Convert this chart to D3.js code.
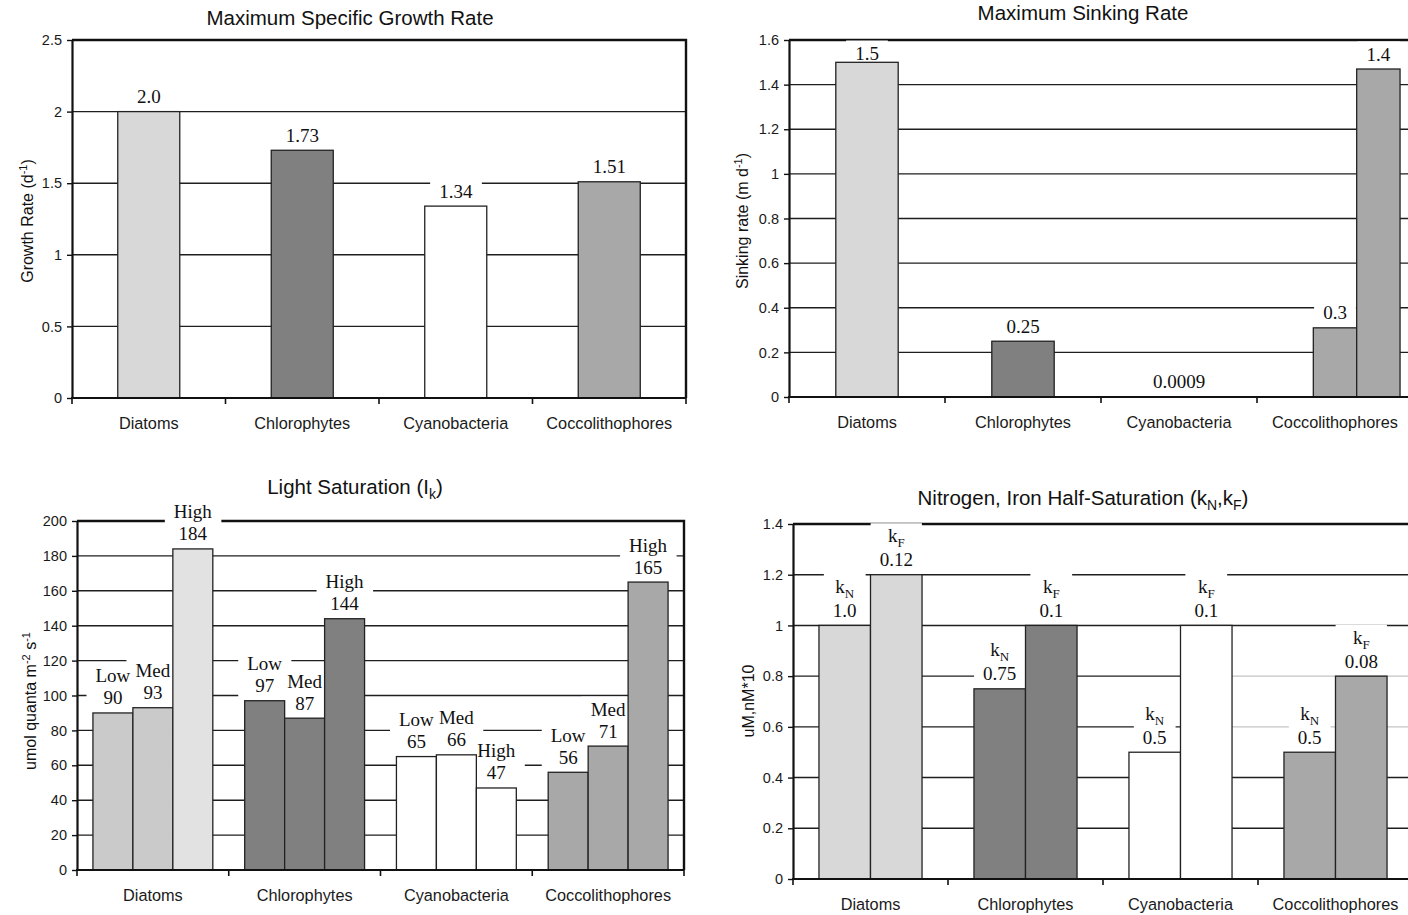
<!DOCTYPE html>
<html>
<head>
<meta charset="utf-8">
<script src="https://cdn.jsdelivr.net/npm/d3@7"></script>
<style>
	body { margin: 0; background: #fff; }
	svg { display: block; }
	.sans { font-family: Arial, "Liberation Sans", Helvetica, sans-serif; }
	.serif { font-family: "Times New Roman", "Liberation Serif", serif; }
</style>
</head>
<body>
<svg width="1408" height="915"></svg>
<script>
'use strict';

// Phytoplankton groups (x categories, same in all four panels)
var groups = ['Diatoms', 'Chlorophytes', 'Cyanobacteria', 'Coccolithophores'];
var groupColors = ['#d8d8d8', '#808080', '#ffffff', '#a8a8a8'];

// Maximum specific growth rate (d-1)
var growthRate = [2.0, 1.73, 1.34, 1.51];
var growthLabels = ['2.0', '1.73', '1.34', '1.51'];
var growthTicks = [0, 0.5, 1, 1.5, 2, 2.5];

// Maximum sinking rate (m d-1); coccolithophores have a second (maximum) bar
var sinkingRate = [1.5, 0.25, 0.0009, 0.31];
var sinkingLabels = ['1.5', '0.25', '0.0009', '0.3'];
var coccoSinkingMax = 1.47;
var coccoSinkingMaxLabel = '1.4';
var sinkingTicks = [0, 0.2, 0.4, 0.6, 0.8, 1, 1.2, 1.4, 1.6];

// Light saturation Ik (umol quanta m-2 s-1) for low / med / high light
var lightLevels = ['Low', 'Med', 'High'];
var lightSat = [
	[90, 93, 184],
	[97, 87, 144],
	[65, 66, 47],
	[56, 71, 165]
];
var lightColors = [
	['#cacaca', '#cacaca', '#e2e2e2'],
	['#808080', '#808080', '#808080'],
	['#ffffff', '#ffffff', '#ffffff'],
	['#a8a8a8', '#a8a8a8', '#a8a8a8']
];
var lightTicks = [0, 20, 40, 60, 80, 100, 120, 140, 160, 180, 200];

// Nitrogen (uM) and iron (nM) half-saturation; kF is plotted times 10
var halfSatKeys = ['N', 'F'];
var kN = [1.0, 0.75, 0.5, 0.5];
var kF = [0.12, 0.1, 0.1, 0.08];
var kNLabels = ['1.0', '0.75', '0.5', '0.5'];
var kFLabels = ['0.12', '0.1', '0.1', '0.08'];
var kFFactor = 10;
var halfSatTicks = [0, 0.2, 0.4, 0.6, 0.8, 1, 1.2, 1.4];

var svg = d3.select('svg');

/**
 * Draws title, frame, gridlines and axes of one panel and returns
 * the scales and layers to put bars and labels in.
 */
function makePanel(opts) {
	var g = svg.append('g');
	var x = d3.scaleBand().domain(groups).range([opts.left, opts.right]);
	var y = d3.scaleLinear().domain([0, opts.ticks[opts.ticks.length - 1]]).range([opts.bottom, opts.top]);
	var p = {
		g: g, x: x, y: y, opts: opts,
		grid: g.append('g'),
		boxes: g.append('g'),
		bars: g.append('g'),
		labels: g.append('g'),
		axes: g.append('g')
	};

	// gridlines (some panels have lighter segments on the right)
	var segs = [];
	opts.ticks.slice(1, -1).forEach(function (t) {
		if (opts.lightGrid && opts.lightGrid.values.indexOf(t) >= 0) {
			var x0 = opts.lightGrid.from(x);
			segs.push({ v: t, x1: opts.left, x2: x0, c: '#1e1e1e' });
			segs.push({ v: t, x1: x0, x2: opts.right, c: '#c4c4c4' });
		} else {
			segs.push({ v: t, x1: opts.left, x2: opts.right, c: '#1e1e1e' });
		}
	});
	p.grid.selectAll('line')
		.data(segs)
		.enter()
			.append('line')
			.attr('x1', function (d) { return d.x1; })
			.attr('x2', function (d) { return d.x2; })
			.attr('y1', function (d) { return y(d.v); })
			.attr('y2', function (d) { return y(d.v); })
			.attr('stroke', function (d) { return d.c; })
			.attr('stroke-width', 1.4);

	// top and right frame
	p.grid.append('path')
		.attr('d', 'M' + opts.left + ',' + opts.top + 'H' + opts.right + 'V' + opts.bottom)
		.attr('fill', 'none')
		.attr('stroke', '#111')
		.attr('stroke-width', 2.4);

	// y axis
	var yAxis = p.axes.append('g')
		.attr('class', 'sans')
		.attr('transform', 'translate(' + opts.left + ',0)')
		.call(d3.axisLeft(y).tickValues(opts.ticks).tickSize(5).tickSizeOuter(0).tickPadding(5).tickFormat(String));
	yAxis.select('.domain').attr('stroke', '#111').attr('stroke-width', 2.2);
	yAxis.selectAll('.tick line').attr('stroke', '#111').attr('stroke-width', 1.4);
	yAxis.selectAll('.tick text').attr('font-size', 14.5).attr('fill', '#1a1a1a').attr('font-family', null);

	// x axis: labels at band centres, ticks at band edges
	var xAxis = p.axes.append('g')
		.attr('class', 'sans')
		.attr('transform', 'translate(0,' + opts.bottom + ')')
		.call(d3.axisBottom(x).tickSize(0).tickPadding(19));
	xAxis.select('.domain').remove();
	xAxis.selectAll('.tick text').attr('font-size', 16.3).attr('fill', '#1a1a1a').attr('font-family', null);
	var edges = groups.map(function (d) { return x(d); }).concat([opts.right]);
	p.axes.selectAll('line.edge')
		.data(edges)
		.enter()
			.append('line')
			.attr('class', 'edge')
			.attr('x1', function (d) { return d; })
			.attr('x2', function (d) { return d; })
			.attr('y1', opts.bottom)
			.attr('y2', opts.bottom + 6)
			.attr('stroke', '#111')
			.attr('stroke-width', 1.6);
	p.axes.append('line')
		.attr('x1', opts.left - 1).attr('x2', opts.right)
		.attr('y1', opts.bottom).attr('y2', opts.bottom)
		.attr('stroke', '#111')
		.attr('stroke-width', 2.2);

	// title and y label
	richText(g.append('text')
		.attr('class', 'sans')
		.attr('x', opts.titleX).attr('y', opts.titleY)
		.attr('text-anchor', 'middle')
		.attr('font-size', 20.5)
		.attr('fill', '#111'), opts.title, 14, 5);
	richText(g.append('text')
		.attr('class', 'sans')
		.attr('transform', 'translate(' + opts.yLabelX + ',' + opts.yLabelY + ') rotate(-90)')
		.attr('text-anchor', 'middle')
		.attr('font-size', 16)
		.attr('fill', '#111'), opts.yLabel, 11, -6);
	return p;
}

/**
 * Fill a text element from parts: strings, or [string, true] for a shifted (sub/sup) part.
 */
function richText(text, parts, smallSize, shift) {
	var offset = 0;
	parts.forEach(function (part) {
		var isShift = Array.isArray(part);
		var s = isShift ? part[0] : part;
		var dy = (isShift ? shift : 0) - offset;
		offset = isShift ? shift : 0;
		var ts = text.append('tspan').text(s);
		if (dy) {
			ts.attr('dy', dy);
		}
		if (isShift) {
			ts.attr('font-size', smallSize);
		}
	});
}

/**
 * Data label above a bar: one or more lines, with a white box behind it.
 */
function addLabel(p, cx, topY, lines, lineGap) {
	lineGap = lineGap || 22;
	var center = topY - 15;
	if (p.opts.minLabelY !== undefined) {
		center = Math.max(center, p.opts.minLabelY);
	}
	var t = p.labels.append('text')
		.attr('class', 'serif')
		.attr('text-anchor', 'middle')
		.attr('font-size', 19)
		.attr('fill', '#111');
	lines.forEach(function (parts, i) {
		var by = center + 6.5 - (lines.length - 1 - i) * lineGap;
		parts.forEach(function (part, j) {
			var ts = t.append('tspan');
			if (j === 0) {
				ts.attr('x', cx).attr('y', by).text(part);
			} else {
				// subscript
				ts.attr('dy', 5).attr('font-size', 13).text(part);
			}
		});
	});
	var bb = t.node().getBBox();
	p.boxes.append('rect')
		.attr('x', bb.x - 9)
		.attr('y', bb.y - 2)
		.attr('width', bb.width + 18)
		.attr('height', bb.height + 4)
		.attr('fill', '#fff');
}

function addBar(p, x0, w, v, color) {
	p.bars.append('rect')
		.attr('x', x0)
		.attr('y', p.y(v))
		.attr('width', w)
		.attr('height', p.y(0) - p.y(v))
		.attr('fill', color)
		.attr('stroke', '#222')
		.attr('stroke-width', 1.3);
}

// ---- Panel 1: growth rate
var p1 = makePanel({
	left: 72, right: 686, top: 40, bottom: 398,
	ticks: growthTicks,
	title: ['Maximum Specific Growth Rate'], titleX: 350, titleY: 25,
	yLabel: ['Growth Rate (d', ['-1', true], ')'], yLabelX: 33, yLabelY: 221
});
groups.forEach(function (d, i) {
	var bw = p1.x.bandwidth(), w = bw * 0.404;
	var cx = p1.x(d) + bw / 2;
	addBar(p1, cx - w / 2, w, growthRate[i], groupColors[i]);
	addLabel(p1, cx, p1.y(growthRate[i]), [[growthLabels[i]]]);
});

// ---- Panel 2: sinking rate
var p2 = makePanel({
	left: 789, right: 1413, top: 40, bottom: 397,
	ticks: sinkingTicks,
	title: ['Maximum Sinking Rate'], titleX: 1083, titleY: 20,
	yLabel: ['Sinking rate (m d', ['-1', true], ')'], yLabelX: 748, yLabelY: 221,
	minLabelY: 53
});
groups.forEach(function (d, i) {
	var bw = p2.x.bandwidth();
	var cx = p2.x(d) + bw / 2;
	var w = d === 'Coccolithophores' ? bw * 0.278 : bw * 0.4;
	addBar(p2, cx - w / 2, w, sinkingRate[i], groupColors[i]);
	addLabel(p2, cx, p2.y(sinkingRate[i]), [[sinkingLabels[i]]]);
	if (d === 'Coccolithophores') {
		addBar(p2, cx + w / 2, w, coccoSinkingMax, groupColors[i]);
		addLabel(p2, cx + w, p2.y(coccoSinkingMax), [[coccoSinkingMaxLabel]]);
	}
});

// ---- Panel 3: light saturation
var p3 = makePanel({
	left: 77, right: 684, top: 521, bottom: 870,
	ticks: lightTicks,
	title: ['Light Saturation (I', ['k', true], ')'], titleX: 355, titleY: 494,
	yLabel: ['umol quanta m', ['-2', true], ' s', ['-1', true]], yLabelX: 36, yLabelY: 701
});
groups.forEach(function (d, i) {
	var bw = p3.x.bandwidth(), gw = bw * 0.79;
	var inner = d3.scaleBand().domain(lightLevels).range([p3.x(d) + (bw - gw) / 2, p3.x(d) + (bw + gw) / 2]);
	lightLevels.forEach(function (lvl, j) {
		var v = lightSat[i][j];
		addBar(p3, inner(lvl), inner.bandwidth(), v, lightColors[i][j]);
		addLabel(p3, inner(lvl) + inner.bandwidth() / 2, p3.y(v), [[lvl], [String(v)]]);
	});
});

// ---- Panel 4: half-saturation constants
var p4 = makePanel({
	left: 793, right: 1413, top: 524, bottom: 879,
	ticks: halfSatTicks,
	title: ['Nitrogen, Iron Half-Saturation (k', ['N', true], ',k', ['F', true], ')'], titleX: 1083, titleY: 505,
	yLabel: ['uM,nM*10'], yLabelX: 754, yLabelY: 701,
	lightGrid: {
		values: [0.6, 0.8],
		from: function (x) { return x('Cyanobacteria') + x.bandwidth() * (0.5 + 0.665 / 2); }
	}
});
groups.forEach(function (d, i) {
	var bw = p4.x.bandwidth(), gw = bw * 0.665;
	var inner = d3.scaleBand().domain(halfSatKeys).range([p4.x(d) + (bw - gw) / 2, p4.x(d) + (bw + gw) / 2]);
	var vals = { N: kN[i], F: kF[i] * kFFactor };
	var labs = { N: kNLabels[i], F: kFLabels[i] };
	halfSatKeys.forEach(function (k) {
		addBar(p4, inner(k), inner.bandwidth(), vals[k], groupColors[i]);
		addLabel(p4, inner(k) + inner.bandwidth() / 2, p4.y(vals[k]), [['k', k], [labs[k]]], 24);
	});
});
</script>
</body>
</html>
